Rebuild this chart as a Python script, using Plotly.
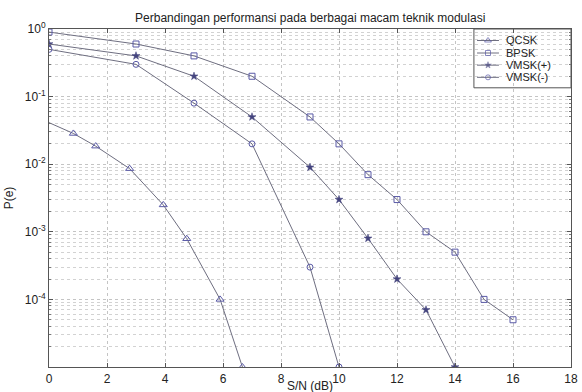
import plotly.graph_objects as go

# Signal-to-noise ratio (dB) and error probability for each modulation scheme
qcsk_x = [-0.3, 0.84, 1.61, 2.78, 3.94, 4.75, 5.9, 6.67]
qcsk_y = [0.047, 0.0285, 0.0185, 0.0086, 0.0025, 0.00079, 0.0001, 0.00001]

bpsk_x = [0, 3, 5, 7, 9, 10, 11, 12, 13, 14, 15, 16]
bpsk_y = [0.9, 0.6, 0.4, 0.2, 0.05, 0.02, 0.007, 0.003, 0.001, 0.0005, 0.0001, 0.00005]

vmsk_plus_x = [0, 3, 5, 7, 9, 10, 11, 12, 13, 14]
vmsk_plus_y = [0.6, 0.4, 0.2, 0.05, 0.009, 0.003, 0.0008, 0.0002, 0.00007, 0.00001]

vmsk_minus_x = [0, 3, 5, 7, 9, 10]
vmsk_minus_y = [0.5, 0.3, 0.08, 0.02, 0.0003, 0.00001]

series_names = ["QCSK", "BPSK", "VMSK(+)", "VMSK(-)"]

x_ticks = list(range(0, 19, 2))
y_tick_vals = [1, 0.1, 0.01, 0.001, 0.0001]
y_tick_text = ["10<sup>0</sup>", "10<sup>-1</sup>", "10<sup>-2</sup>",
               "10<sup>-3</sup>", "10<sup>-4</sup>"]

LINE = "#6e6e80"
MARK = "#5a5aa6"
STAR = "#44447e"
FONT = "Liberation Sans, Arial, sans-serif"

styles = [
    dict(symbol="triangle-up-open", size=7, color=MARK, lw=1),
    dict(symbol="square-open", size=6, color=MARK, lw=1),
    dict(symbol="star", size=6, color=STAR, lw=0.5),
    dict(symbol="circle-open", size=6, color=MARK, lw=1),
]
data = [(qcsk_x, qcsk_y), (bpsk_x, bpsk_y),
        (vmsk_plus_x, vmsk_plus_y), (vmsk_minus_x, vmsk_minus_y)]

fig = go.Figure()
for name, (xs, ys), st in zip(series_names, data, styles):
    fig.add_trace(go.Scatter(
        x=xs, y=ys, name=name, mode="lines+markers", showlegend=False,
        line=dict(color=LINE, width=1),
        marker=dict(symbol=st["symbol"], size=st["size"], color=st["color"],
                    line=dict(color=st["color"], width=st["lw"])),
    ))

# Compact boxed legend in the upper-right corner, drawn on a unit overlay axis
leg_x0, leg_x1 = 0.814, 1.0
leg_y0, leg_y1 = 0.826, 1.0
row_y = [0.966, 0.929, 0.893, 0.857]
fig.add_shape(type="rect", xref="paper", yref="paper",
              x0=leg_x0, x1=leg_x1, y0=leg_y0, y1=leg_y1,
              line=dict(color="#555", width=1), fillcolor="white", layer="between")
for name, st, ry in zip(series_names, styles, row_y):
    fig.add_trace(go.Scatter(
        x=[0.820, 0.841, 0.862], y=[ry, ry, ry], xaxis="x2", yaxis="y2",
        mode="lines+markers", showlegend=False, hoverinfo="skip",
        line=dict(color=LINE, width=1),
        marker=dict(symbol=st["symbol"], size=[0, st["size"] - 1, 0],
                    color=st["color"], line=dict(color=st["color"], width=st["lw"])),
    ))
    fig.add_annotation(text=name, xref="paper", yref="paper", x=0.874, y=ry,
                       xanchor="left", yanchor="middle", showarrow=False,
                       borderpad=0,
                       font=dict(size=11, family=FONT, color="#222"))

# x-axis caption sits just under the tick labels
fig.add_annotation(text="S/N (dB)", xref="paper", yref="paper", x=0.5, y=-0.057,
                   xanchor="center", yanchor="middle", showarrow=False,
                   borderpad=0, font=dict(size=12, family=FONT, color="#222"))

# minor grid positions for every decade
minor_vals = [m * 10.0 ** e for e in range(-5, 0) for m in range(2, 10)]

fig.update_layout(
    width=582, height=392,
    margin=dict(l=49, r=11, t=29, b=25),
    paper_bgcolor="white", plot_bgcolor="white",
    font=dict(family=FONT, size=12, color="#222"),
    title=dict(text="Perbandingan performansi pada berbagai macam teknik modulasi",
               x=0.533, xanchor="center", y=0.955, yanchor="middle",
               font=dict(size=12, color="#222")),
    showlegend=False,
    xaxis=dict(
        range=[0, 18], tickvals=x_ticks, ticks="inside", ticklen=4,
        tickcolor="#555", showline=True, linecolor="#555", linewidth=1,
        mirror="ticks", showgrid=True, gridcolor="#c4c4c4", griddash="dot",
        zeroline=False, automargin=False, ticklabelstandoff=1,
    ),
    yaxis=dict(
        type="log", range=[-5, 0], tickvals=y_tick_vals, ticktext=y_tick_text,
        ticks="inside", ticklen=4, tickcolor="#555", showline=True,
        linecolor="#555", linewidth=1, mirror="ticks", automargin=False,
        showgrid=True, gridcolor="#c4c4c4", griddash="dot", zeroline=False,
        minor=dict(tickvals=minor_vals, showgrid=True, gridcolor="#d2d2d2",
                   griddash="dot", ticks="inside", ticklen=2, tickcolor="#777"),
        title=dict(text="P(e)", standoff=8, font=dict(size=12)),
    ),
    xaxis2=dict(overlaying="x", range=[0, 1], visible=False, anchor="y2"),
    yaxis2=dict(overlaying="y", range=[0, 1], visible=False, anchor="x2"),
)

fig.write_html("out.html")
